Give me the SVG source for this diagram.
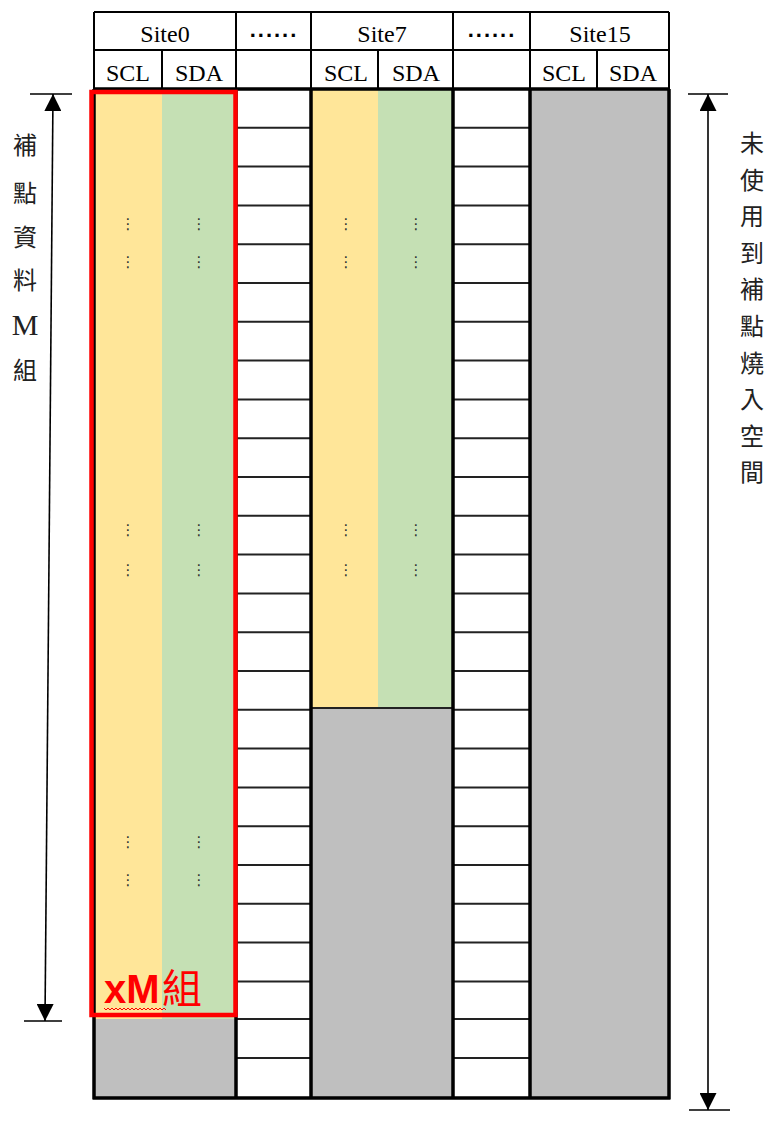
<svg xmlns="http://www.w3.org/2000/svg" width="780" height="1123" viewBox="0 0 780 1123">
<defs>
<style>
.hdr{font-family:"Liberation Serif",serif;font-size:24px;fill:#000;text-anchor:middle}
.dd{font-family:"Liberation Sans",sans-serif;font-size:22px;font-weight:bold;fill:#000;text-anchor:middle;letter-spacing:2px}
.cjk{font-family:"Noto Sans CJK TC","Noto Sans CJK SC",sans-serif;font-size:24px;fill:#222;text-anchor:middle}
.vd{font-family:"DejaVu Sans",sans-serif;font-size:15px;fill:#333;text-anchor:middle}
.thin{stroke:#000;stroke-width:2;fill:none}
.thick{stroke:#000;stroke-width:3.5;fill:none}
.row{stroke:#222;stroke-width:2;fill:none}
.arr{stroke:#000;stroke-width:1.6;fill:none}
.yel{fill:#FFE699}
.grn{fill:#C5E0B4}
.gry{fill:#BFBFBF}
</style>
<marker id="ah" markerUnits="userSpaceOnUse" markerWidth="17" markerHeight="17" viewBox="0 0 17 17" refX="17" refY="8.5" orient="auto">
<path d="M0,0 L17,8.5 L0,17 z" fill="#000"/>
</marker>
</defs>

<g id="header">
<rect x="94" y="12" width="575" height="77" fill="#fff"/>
<path class="thin" d="M94,12 H669 M94,50 H669 M94,12 V89 M162,50 V89 M236,12 V89 M311,12 V89 M378,50 V89 M453,12 V89 M530,12 V89 M597,50 V89 M669,12 V89"/>
<text class="hdr" x="165" y="42">Site0</text>
<text class="hdr" x="382" y="42">Site7</text>
<text class="hdr" x="600" y="42">Site15</text>
<text class="dd" x="274" y="37">......</text>
<text class="dd" x="492" y="37">......</text>
<text class="hdr" x="128" y="81">SCL</text>
<text class="hdr" x="199" y="81">SDA</text>
<text class="hdr" x="346" y="81">SCL</text>
<text class="hdr" x="416" y="81">SDA</text>
<text class="hdr" x="564" y="81">SCL</text>
<text class="hdr" x="633" y="81">SDA</text>
</g>

<g id="site0">
<rect class="yel" x="94" y="89" width="68" height="930"/>
<rect class="grn" x="162" y="89" width="74" height="930"/>
<rect class="gry" x="94" y="1019" width="142" height="79"/>
<text class="vd" x="128" y="229">⋮</text>
<text class="vd" x="199" y="229">⋮</text>
<text class="vd" x="128" y="267">⋮</text>
<text class="vd" x="199" y="267">⋮</text>
<text class="vd" x="128" y="535">⋮</text>
<text class="vd" x="199" y="535">⋮</text>
<text class="vd" x="128" y="575">⋮</text>
<text class="vd" x="199" y="575">⋮</text>
<text class="vd" x="128" y="847">⋮</text>
<text class="vd" x="199" y="847">⋮</text>
<text class="vd" x="128" y="885">⋮</text>
<text class="vd" x="199" y="885">⋮</text>
</g>

<g id="gap1">
<rect x="236" y="89" width="75" height="1009" fill="#fff"/>
<path class="row" d="M236,127.8 H311 M236,166.6 H311 M236,205.4 H311 M236,244.2 H311 M236,283 H311 M236,321.8 H311 M236,360.6 H311 M236,399.4 H311 M236,438.2 H311 M236,477 H311 M236,515.8 H311 M236,554.6 H311 M236,593.4 H311 M236,632.2 H311 M236,671 H311 M236,709.8 H311 M236,748.6 H311 M236,787.4 H311 M236,826.2 H311 M236,865 H311 M236,903.8 H311 M236,942.6 H311 M236,981.4 H311 M236,1019 H311 M236,1058 H311"/>
</g>

<g id="site7">
<rect class="yel" x="311" y="89" width="67" height="619"/>
<rect class="grn" x="378" y="89" width="75" height="619"/>
<rect class="gry" x="311" y="708" width="142" height="390"/>
<path class="row" d="M311,708 H453"/>
<text class="vd" x="346" y="229">⋮</text>
<text class="vd" x="416" y="229">⋮</text>
<text class="vd" x="346" y="267">⋮</text>
<text class="vd" x="416" y="267">⋮</text>
<text class="vd" x="346" y="535">⋮</text>
<text class="vd" x="416" y="535">⋮</text>
<text class="vd" x="346" y="575">⋮</text>
<text class="vd" x="416" y="575">⋮</text>
</g>

<g id="gap2">
<rect x="453" y="89" width="77" height="1009" fill="#fff"/>
<path class="row" d="M453,127.8 H530 M453,166.6 H530 M453,205.4 H530 M453,244.2 H530 M453,283 H530 M453,321.8 H530 M453,360.6 H530 M453,399.4 H530 M453,438.2 H530 M453,477 H530 M453,515.8 H530 M453,554.6 H530 M453,593.4 H530 M453,632.2 H530 M453,671 H530 M453,709.8 H530 M453,748.6 H530 M453,787.4 H530 M453,826.2 H530 M453,865 H530 M453,903.8 H530 M453,942.6 H530 M453,981.4 H530 M453,1019 H530 M453,1058 H530"/>
</g>

<g id="site15">
<rect class="gry" x="530" y="89" width="139" height="1009"/>
</g>

<g id="grid">
<path class="thick" d="M94,89 H669 M94,89 V1099 M236,89 V1099 M311,89 V1099 M453,89 V1099 M530,89 V1099 M669,89 V1099 M92.5,1098 H670.5"/>
</g>

<g id="selection">
<rect x="91.5" y="92" width="144" height="923" fill="none" stroke="#FF0000" stroke-width="4.5"/>
<text x="104" y="1003" font-family="'Liberation Sans',sans-serif" font-size="40" font-weight="bold" fill="#FF0000">xM</text>
<text x="162" y="1003" font-family="'Noto Sans CJK TC','Noto Sans CJK SC',sans-serif" font-size="40" fill="#FF0000">組</text>
<path d="M104,1008 l2,2 l2,-2 l2,2 l2,-2 l2,2 l2,-2 l2,2 l2,-2 l2,2 l2,-2 l2,2 l2,-2 l2,2 l2,-2 l2,2 l2,-2 l2,2 l2,-2 l2,2 l2,-2 l2,2 l2,-2 l2,2 l2,-2 l2,2 l2,-2 l2,2 l2,-2 l2,2 l2,-2 l2,2" fill="none" stroke="#FF0000" stroke-width="1"/>
</g>

<g id="connectors">
<path class="arr" d="M30,94 H72 M24,1021 H62 M688,94 H728 M689,1110 H730"/>
<line class="arr" x1="49" y1="560" x2="53" y2="94" marker-end="url(#ah)"/>
<line class="arr" x1="49" y1="560" x2="45" y2="1021" marker-end="url(#ah)"/>
<line class="arr" x1="708" y1="600" x2="708" y2="94" marker-end="url(#ah)"/>
<line class="arr" x1="708" y1="600" x2="708" y2="1110" marker-end="url(#ah)"/>
</g>

<g id="label-left">
<text class="cjk" x="25" y="154">補</text>
<text class="cjk" x="25" y="202">點</text>
<text class="cjk" x="25" y="246">資</text>
<text class="cjk" x="25" y="289">料</text>
<text class="cjk" x="25" y="335" style="font-family:'Liberation Serif',serif;font-size:30px">M</text>
<text class="cjk" x="25" y="379">組</text>
</g>

<g id="label-right">
<text class="cjk" x="752" y="152">未</text>
<text class="cjk" x="752" y="188.6">使</text>
<text class="cjk" x="752" y="225.2">用</text>
<text class="cjk" x="752" y="261.8">到</text>
<text class="cjk" x="752" y="298.4">補</text>
<text class="cjk" x="752" y="335">點</text>
<text class="cjk" x="752" y="371.6">燒</text>
<text class="cjk" x="752" y="408.2">入</text>
<text class="cjk" x="752" y="444.8">空</text>
<text class="cjk" x="752" y="481.4">間</text>
</g>
</svg>
